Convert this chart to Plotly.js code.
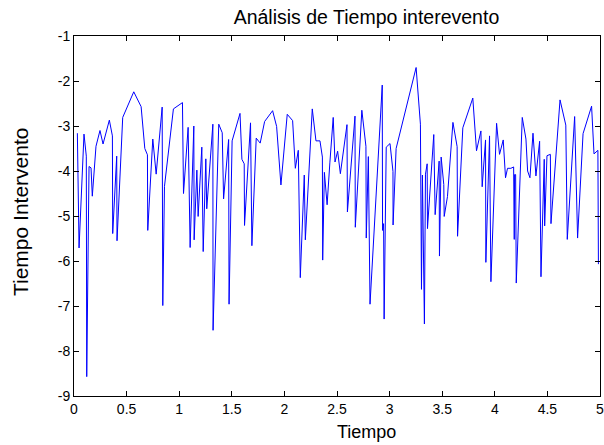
<!DOCTYPE html>
<html>
<head>
<meta charset="utf-8">
<script src="https://cdn.plot.ly/plotly-3.0.1.min.js"></script>
<style>html,body{margin:0;padding:0;background:#fff;}#chart{width:604px;height:445px;}</style>
</head>
<body>
<div id="chart"></div>
<script>
const tiempo = [
0.032,0.048,0.095,0.117,0.121,0.143,0.162,0.174,0.209,0.247,
0.276,0.336,0.365,0.368,0.406,0.409,0.463,0.568,0.638,0.673,
0.698,0.701,0.749,0.781,0.838,0.844,0.860,0.945,1.031,1.041,
1.085,1.104,1.139,1.142,1.168,1.180,1.215,1.228,1.253,1.262,
1.320,1.322,1.376,1.409,1.422,1.470,1.474,1.503,1.578,1.596,
1.618,1.621,1.678,1.691,1.732,1.770,1.812,1.888,1.926,1.967,
2.027,2.078,2.104,2.132,2.151,2.189,2.199,2.265,2.300,2.338,
2.361,2.364,2.380,2.406,2.432,2.464,2.481,2.506,2.532,2.595,
2.599,2.671,2.674,2.736,2.775,2.778,2.798,2.814,2.930,2.933,
2.943,2.948,2.968,3.004,3.032,3.033,3.062,3.252,3.293,3.303,
3.312,3.331,3.341,3.357,3.360,3.420,3.433,3.471,3.474,3.490,
3.515,3.519,3.550,3.602,3.642,3.646,3.696,3.791,3.826,3.868,
3.880,3.912,3.915,3.950,3.963,4.017,4.045,4.080,4.102,4.121,
4.153,4.179,4.185,4.188,4.198,4.204,4.261,4.296,4.312,4.334,
4.363,4.391,4.426,4.439,4.470,4.474,4.496,4.528,4.534,4.620,
4.675,4.689,4.759,4.787,4.839,4.920,4.943,4.980,4.985
];
const intervento = [
-3.16,-5.71,-3.18,-3.67,-8.57,-3.90,-3.93,-4.56,-3.45,-3.10,
-3.40,-2.87,-3.22,-5.39,-3.67,-5.55,-2.81,-2.24,-2.57,-3.50,
-3.64,-5.32,-3.29,-4.07,-2.58,-6.99,-4.34,-2.62,-2.48,-4.50,
-3.03,-5.70,-3.00,-5.53,-3.98,-5.01,-3.47,-5.79,-3.73,-4.84,
-2.96,-7.54,-2.96,-3.15,-4.62,-3.30,-6.96,-3.33,-2.72,-3.74,
-3.84,-5.21,-2.93,-5.66,-3.27,-3.38,-2.90,-2.66,-3.01,-4.31,
-2.74,-2.88,-3.94,-3.54,-6.37,-4.09,-5.53,-2.62,-3.33,-3.33,
-3.69,-5.98,-4.03,-4.75,-3.82,-2.81,-3.80,-3.56,-4.06,-2.97,
-4.91,-2.78,-5.25,-2.65,-3.45,-5.49,-3.68,-6.96,-2.09,-5.32,
-5.17,-7.29,-3.47,-3.39,-4.01,-5.20,-3.50,-1.70,-2.96,-6.63,
-4.09,-7.40,-4.07,-3.84,-5.28,-3.19,-4.97,-3.78,-5.89,-3.69,
-4.30,-5.01,-4.57,-2.92,-3.46,-5.45,-3.04,-2.38,-3.55,-3.11,
-4.35,-3.31,-6.03,-3.22,-6.46,-2.94,-3.63,-3.31,-4.15,-3.94,
-3.94,-3.91,-5.52,-4.08,-4.08,-6.49,-2.81,-3.29,-4.00,-4.15,
-3.16,-4.11,-3.34,-6.35,-3.74,-5.22,-3.66,-3.63,-5.17,-2.42,
-2.98,-5.52,-2.79,-5.49,-3.17,-2.56,-3.62,-3.54,-6.07
];
const xTickVals = [0,0.5,1,1.5,2,2.5,3,3.5,4,4.5,5];
const xTickText = ['0','0.5','1','1.5','2','2.5','3','3.5','4','4.5','5'];
const yTickVals = [-9,-8,-7,-6,-5,-4,-3,-2,-1];
const yTickText = ['-9','-8','-7','-6','-5','-4','-3','-2','-1'];
const titleText = 'Análisis de Tiempo interevento';
const xTitle = 'Tiempo';
const yTitle = 'Tiempo Intervento';

const FONT = '"Liberation Sans", Arial, Helvetica, sans-serif';
const axisCommon = {
  showline: true, linecolor: '#000', linewidth: 1, mirror: 'ticks',
  ticks: 'inside', ticklen: 5, tickcolor: '#000', tickwidth: 1,
  showgrid: false, zeroline: false, tickmode: 'array',
  ticklabeloverflow: 'allow',
  tickfont: {family: FONT, size: 14, color: '#000'}
};
const layout = {
  width: 604, height: 445,
  margin: {l: 74, r: 4, t: 36, b: 49},
  paper_bgcolor: '#fff', plot_bgcolor: '#fff',
  showlegend: false,
  title: {text: titleText, font: {family: FONT, size: 19.5, color: '#000'},
          x: 0.556, xref: 'paper', xanchor: 'center', y: 0.961, yref: 'container', yanchor: 'middle'},
  xaxis: Object.assign({}, axisCommon, {range: [0, 5], tickvals: xTickVals, ticktext: xTickText}),
  yaxis: Object.assign({}, axisCommon, {range: [-9, -1], tickvals: yTickVals, ticktext: yTickText}),
  annotations: [
    {text: xTitle, xref: 'paper', yref: 'paper', x: 0.557, y: 0, xanchor: 'center', yanchor: 'middle',
     yshift: -36, showarrow: false, font: {family: FONT, size: 18, color: '#000'}},
    {text: yTitle, xref: 'paper', yref: 'paper', x: -0.1027, y: 0.511, xanchor: 'center', yanchor: 'middle',
     textangle: -90, showarrow: false, font: {family: FONT, size: 21, color: '#000'}}
  ]
};
Plotly.newPlot('chart', [{
  x: tiempo, y: intervento, type: 'scatter', mode: 'lines',
  line: {color: '#0000ff', width: 1}
}], layout, {displayModeBar: false, staticPlot: true});
</script>
</body>
</html>
